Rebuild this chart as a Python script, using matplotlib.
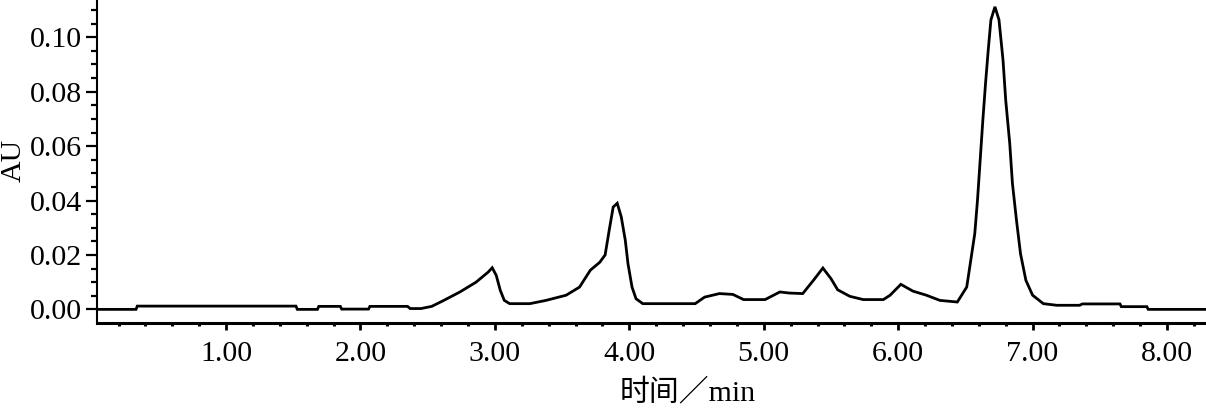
"""
HPLC chromatogram (AU vs retention time), redrawn from the figure.
"""
import numpy as np
import matplotlib
matplotlib.use('Agg')
import matplotlib.pyplot as plt
from matplotlib.ticker import MultipleLocator, FormatStrFormatter

# retention time (min) and absorbance (AU)
time_min = [0.04, 0.33, 0.34, 1.52, 1.53, 1.68, 1.69, 1.85, 1.86, 2.06,
            2.07, 2.35, 2.37, 2.45, 2.53, 2.62, 2.74, 2.86, 2.95, 2.98,
            3.01, 3.04, 3.07, 3.11, 3.26, 3.38, 3.53, 3.63, 3.71, 3.78,
            3.82, 3.85, 3.88, 3.91, 3.94, 3.97, 3.99, 4.02, 4.05, 4.10,
            4.49, 4.56, 4.67, 4.77, 4.85, 5.01, 5.12, 5.19, 5.29, 5.37,
            5.44, 5.50, 5.55, 5.64, 5.74, 5.89, 5.94, 6.02, 6.11, 6.21,
            6.31, 6.44, 6.51, 6.54, 6.57, 6.59, 6.61, 6.63, 6.65, 6.67,
            6.69, 6.72, 6.75, 6.78, 6.80, 6.83, 6.85, 6.88, 6.91, 6.95,
            7.00, 7.08, 7.18, 7.35, 7.37, 7.65, 7.66, 7.85, 7.86, 8.29]
absorb = [0.0000, 0.0000, 0.0012, 0.0012, 0.0000, 0.0000, 0.0011, 0.0011, 0.0001, 0.0001,
          0.0011, 0.0011, 0.0003, 0.0003, 0.0011, 0.0033, 0.0064, 0.0100, 0.0137, 0.0153,
          0.0125, 0.0070, 0.0033, 0.0021, 0.0021, 0.0033, 0.0052, 0.0082, 0.0144, 0.0173,
          0.0200, 0.0290, 0.0376, 0.0390, 0.0340, 0.0254, 0.0168, 0.0082, 0.0039, 0.0021,
          0.0021, 0.0045, 0.0058, 0.0055, 0.0036, 0.0036, 0.0064, 0.0060, 0.0058, 0.0107,
          0.0152, 0.0113, 0.0072, 0.0048, 0.0036, 0.0036, 0.0052, 0.0092, 0.0067, 0.0052,
          0.0033, 0.0027, 0.0082, 0.0180, 0.0279, 0.0401, 0.0548, 0.0696, 0.0831, 0.0953,
          0.1064, 0.1112, 0.1064, 0.0916, 0.0769, 0.0610, 0.0463, 0.0328, 0.0205, 0.0107,
          0.0052, 0.0021, 0.0015, 0.0015, 0.0020, 0.0020, 0.0010, 0.0010, 0.0000, 0.0000]

xticks = [1, 2, 3, 4, 5, 6, 7, 8]
yticks = [0.00, 0.02, 0.04, 0.06, 0.08, 0.10]

serif = ['Liberation Serif', 'Noto Sans CJK SC']
plt.rcParams['font.family'] = serif
plt.rcParams['font.size'] = 21.5

fig = plt.figure(figsize=(12.06, 4.08), dpi=100)
ax = fig.add_axes([97/1206., 1 - 322.7/408., 1109/1206., 322.7/408.])

ax.plot(time_min, absorb, color='black', lw=2.0, solid_joinstyle='miter')

ax.set_xlim(0.04, 8.29)
ax.set_ylim(-0.0049, 0.1137)

ax.set_xticks(xticks)
ax.xaxis.set_major_formatter(FormatStrFormatter('%.2f'))
ax.xaxis.set_minor_locator(MultipleLocator(0.2))
ax.set_yticks(yticks)
ax.yaxis.set_major_formatter(FormatStrFormatter('%.2f'))
ax.yaxis.set_minor_locator(MultipleLocator(0.005))

ax.tick_params(axis='x', which='major', direction='out', length=5, width=2,
               pad=8, labelsize=21.5)
ax.tick_params(axis='x', which='minor', direction='out', length=2.5, width=2.2)
ax.tick_params(axis='y', which='major', direction='out', length=8, width=1.6,
               pad=3, labelsize=21.5)
ax.tick_params(axis='y', which='minor', direction='out', length=4, width=1.6)

for side in ('top', 'right'):
    ax.spines[side].set_visible(False)
ax.spines['bottom'].set_linewidth(2.2)
ax.spines['left'].set_linewidth(1.5)

fig.text(14/1206., 1 - 160/408., 'AU', rotation=90, ha='center', va='center',
         fontsize=21.5)
fig.text(688/1206., 1 - 392/408., '时间／min', ha='center', va='center',
         fontsize=21.5, family=serif)

fig.savefig('out.png', dpi=100)
